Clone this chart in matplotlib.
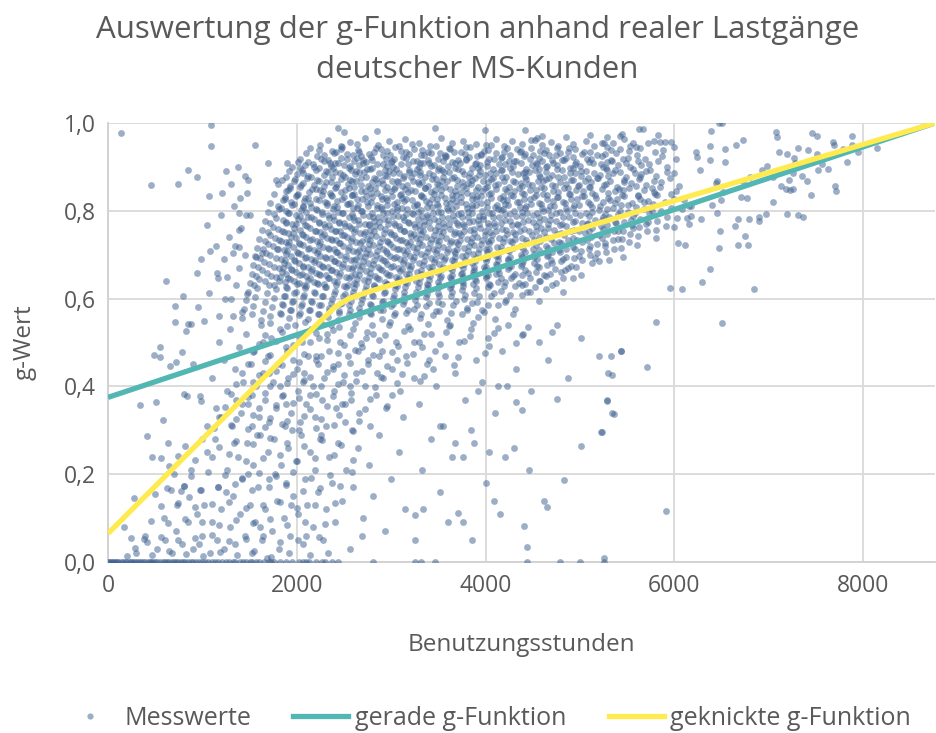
import numpy as np
import matplotlib
matplotlib.use("Agg")
import matplotlib.pyplot as plt
from matplotlib.lines import Line2D

plt.rcParams['font.family'] = ['Open Sans', 'DejaVu Sans']

# Messwerte (Benutzungsstunden, g-Wert), aus dem Bild abgeschätzt
punkte_null = [(0, 0), (30, 0), (60, 0), (90, 0), (140, 0), (180, 0), (230, 0), (260, 0), (310, 0), (350, 0),
               (390, 0), (420, 0), (460, 0), (500, 0), (550, 0), (580, 0), (620, 0), (650, 0), (700, 0), (740, 0),
               (790, 0), (850, 0), (900, 0), (960, 0), (1000, 0), (1060, 0), (1130, 0), (1210, 0), (1280, 0),
               (1350, 0), (1400, 0), (1460, 0), (1530, 0), (1570, 0), (1650, 0), (1700, 0), (1760, 0), (1880, 0),
               (2020, 0), (2070, 0), (2130, 0), (2200, 0), (2270, 0), (2300, 0), (2440, 0), (2810, 0), (3250, 0),
               (3320, 0), (3460, 0), (4440, 0), (4790, 0), (5000, 0), (5250, 0), (4440, .035), (5250, .009),
               (15, 0), (45, 0), (75, 0), (110, 0), (160, 0), (200, 0), (245, 0), (285, 0), (330, 0), (370, 0),
               (440, 0), (480, 0), (520, 0), (600, 0), (680, 0), (720, 0), (770, 0), (820, 0), (880, 0), (930, 0),
               (1030, 0), (1100, 0), (1170, 0), (1250, 0), (1320, 0), (1430, 0), (1500, 0), (1600, 0), (1730, 0),
               (1820, 0), (1950, 0), (2100, 0), (2370, 0)]

punkte_unten = [(200, .014), (290, .031), (410, .046), (390, .059), (240, .055), (170, .080), (500, .154), (270, .146),
                (470, .240), (410, .288), (650, .219), (670, .164), (770, .162), (860, .149), (810, .174), (970, .164),
                (520, .03), (600, .05), (680, .02), (720, .07), (780, .04), (850, .09), (900, .03), (940, .11),
                (1000, .06), (1020, .13), (1080, .02), (1100, .09), (1150, .05), (1170, .17), (1200, .12), (1230, .03),
                (1260, .21), (1290, .08), (1320, .15), (1350, .04), (1380, .24), (1400, .11), (1420, .19), (1450, .06),
                (1470, .27), (1500, .13), (1520, .02), (1540, .22), (1560, .09), (1590, .17), (1610, .29), (1630, .05),
                (1660, .12), (1690, .25), (1710, .19), (1740, .07), (1760, .28), (1790, .14), (1810, .03), (1830, .22),
                (1860, .10), (1880, .18), (1910, .26), (1930, .06), (1960, .15), (1990, .23), (2010, .11), (2040, .29),
                (2060, .04), (2090, .19), (2110, .13), (2140, .25), (2170, .08), (2190, .21), (2220, .16), (2250, .28),
                (2280, .05), (2310, .12), (2340, .24), (2370, .18), (2400, .09), (2440, .27), (2480, .14), (2520, .21),
                (2560, .03), (2600, .17), (2650, .26), (2700, .10), (2760, .22), (2810, .15), (2870, .29), (2930, .07),
                (3000, .19), (3080, .25), (3150, .12), (3250, .05), (3330, .21), (3420, .28), (3520, .16), (3640, .24),
                (3760, .09), (3880, .27), (4000, .18), (4150, .11), (4300, .26), (4460, .21), (4620, .14), (1050, .25),
                (880, .21), (730, .13), (590, .10), (1130, .28), (960, .04), (1250, .16), (1610, .08), (1770, .20),
                (1940, .13), (2330, .02), (2690, .06), (2100, .06), (1480, .20), (1330, .27), (1680, .01),
                (4830, .187), (4650, .125), (4410, .083), (3710, .112), (3860, .051), (3600, .091), (3340, .121),
                (3250, .106), (4090, .140), (5010, .264), (5220, .295), (4040, .25), (4200, .24), (3760, .24),
                (3670, .27), (5910, .117)]

punkte_unten2 = [(640, .272), (820, .265), (1000, .281), (1180, .262), (1360, .276), (1540, .268), (1720, .283),
                 (1900, .271), (2080, .264), (2270, .279), (2470, .266), (560, .236), (740, .242), (920, .233),
                 (1100, .239), (1280, .245), (1460, .231), (1640, .238), (1820, .244), (2000, .229), (2190, .237),
                 (2390, .243), (2600, .232), (700, .201), (880, .195), (1060, .204), (1240, .198), (1420, .192),
                 (1600, .202), (1780, .196), (1960, .205), (2150, .191), (2350, .199), (2580, .205), (620, .168),
                 (800, .174), (980, .165), (1160, .171), (1340, .177), (1520, .163), (1700, .170), (1880, .176),
                 (2060, .162), (2250, .169), (2460, .174), (560, .128), (740, .134), (920, .125), (1100, .131),
                 (1280, .137), (1460, .123), (1640, .130), (1820, .136), (2000, .122), (2190, .129), (2400, .135),
                 (460, .094), (640, .088), (820, .097), (1000, .091), (1180, .085), (1360, .095), (1540, .089),
                 (1720, .098), (1900, .084), (2090, .092), (2300, .087), (380, .052), (560, .058), (740, .049),
                 (920, .055), (1100, .061), (1280, .047), (1460, .053), (1640, .059), (1820, .045), (2010, .051),
                 (2230, .057), (300, .021), (470, .016), (650, .025), (830, .019), (1010, .013), (1190, .023),
                 (1370, .017), (1550, .026), (1730, .012), (1920, .020), (2140, .015)]

punkte_mitte = [(340, .358), (510, .365), (580, .323), (800, .382), (840, .377), (970, .379), (980, .367), (550, .489),
                (490, .472), (550, .466), (660, .447), (720, .456), (780, .478), (900, .450), (710, .546), (850, .542),
                (830, .526), (880, .542), (1020, .550), (1050, .31), (1100, .42), (1140, .35), (1180, .50), (1200, .33),
                (1230, .46), (1260, .39), (1290, .53), (1310, .31), (1340, .44), (1360, .37), (1390, .49), (1410, .34),
                (1430, .41), (1460, .52), (1480, .36), (1510, .45), (1530, .31), (1550, .48), (1570, .40), (1600, .33),
                (1620, .54), (1640, .43), (1660, .37), (1690, .47), (1710, .32), (1730, .51), (1750, .41), (1780, .35),
                (1800, .45), (1820, .53), (1850, .38), (1870, .31), (1890, .49), (1910, .42), (1940, .34), (1960, .46),
                (1980, .54), (2010, .39), (2030, .32), (2050, .50), (2080, .43), (2100, .36), (2120, .47), (2150, .53),
                (2170, .40), (2190, .33), (2220, .45), (2240, .51), (2270, .37), (2290, .42), (2310, .31), (2340, .48),
                (2360, .54), (2390, .39), (2410, .35), (2440, .45), (2460, .50), (2490, .41), (2510, .32), (2540, .47),
                (2570, .37), (2600, .53), (2630, .43), (2660, .34), (2690, .49), (2720, .40), (2750, .45), (2780, .31),
                (2810, .52), (2840, .38), (2870, .47), (2910, .42), (2940, .35), (2980, .54), (3010, .44), (3050, .50),
                (3090, .39), (3120, .33), (3160, .47), (3200, .53), (3240, .42), (3290, .36), (3330, .49), (3380, .45),
                (3420, .52), (3470, .40), (3520, .31), (3570, .47), (3620, .54), (3670, .43), (3720, .50), (3780, .37),
                (3840, .53), (3900, .46), (3960, .41), (4030, .51), (4100, .34), (4170, .48), (4240, .54), (4320, .44),
                (4400, .52), (4480, .39), (4570, .50), (4660, .46), (4760, .54), (4870, .42), (5010, .51), (5200, .47),
                (5300, .43), (5330, .47), (5340, .426), (5430, .48), (5710, .444), (5290, .367), (5360, .337),
                (5230, .296), (4760, .372), (5280, .369), (5340, .339), (4130, .40), (4230, .40), (4320, .365),
                (4390, .346), (3840, .30), (3550, .31), (3920, .39), (1520, .38), (1700, .43), (1880, .36), (2060, .41),
                (2200, .47), (2380, .44), (2560, .40), (2730, .51), (2900, .48), (1640, .50), (1820, .40), (2000, .44),
                (2140, .38), (2320, .52), (2480, .36), (2650, .48), (2850, .43), (3060, .46), (3240, .50), (3440, .44),
                (1580, .29), (1950, .30), (2260, .29), (2580, .30), (5800, .547), (5430, .48)]

punkte_mitte2 = [(1720, .545), (1900, .538), (2090, .547), (2270, .541), (2450, .536), (2620, .544), (2800, .539),
                 (2990, .546), (3180, .537), (3390, .543), (3610, .538), (3870, .545), (4130, .532), (4450, .536),
                 (1660, .518), (1840, .524), (2020, .515), (2200, .522), (2380, .528), (2560, .517), (2740, .523),
                 (2930, .516), (3130, .527), (3350, .519), (3580, .525), (3830, .514), (4090, .521), (4380, .517),
                 (4700, .523), (1600, .497), (1780, .503), (1960, .495), (2140, .501), (2320, .506), (2500, .494),
                 (2680, .499), (2870, .505), (3070, .493), (3290, .502), (3520, .497), (3770, .504), (4040, .491),
                 (4320, .498), (1540, .478), (1720, .472), (1900, .480), (2080, .474), (2260, .469), (2440, .477),
                 (2620, .483), (2810, .471), (3010, .479), (3230, .473), (3460, .481), (3710, .468), (3990, .476),
                 (1480, .452), (1660, .458), (1840, .449), (2020, .455), (2200, .461), (2380, .447), (2560, .454),
                 (2750, .459), (2950, .446), (3170, .453), (3400, .460), (3660, .448), (1420, .431), (1600, .425),
                 (1780, .434), (1960, .428), (2140, .422), (2320, .432), (2500, .426), (2690, .435), (2890, .421),
                 (3110, .429), (3350, .424), (1360, .405), (1540, .411), (1720, .402), (1900, .408), (2080, .414),
                 (2260, .400), (2440, .406), (2630, .412), (2830, .399), (3060, .407), (3300, .413), (1300, .382),
                 (1480, .376), (1660, .385), (1840, .379), (2020, .373), (2200, .383), (2380, .377), (2570, .386),
                 (2780, .372), (3010, .380), (1240, .354), (1420, .360), (1600, .351), (1780, .357), (1960, .363),
                 (2140, .349), (2320, .355), (2510, .361), (2720, .348), (2950, .356), (1180, .331), (1360, .325),
                 (1540, .334), (1720, .328), (1900, .322), (2080, .332), (2260, .326), (2450, .335), (2660, .321),
                 (1120, .305), (1300, .311), (1480, .302), (1660, .308), (1840, .314), (2020, .300), (2200, .306),
                 (2390, .312), (2600, .299)]

punkte_links = [(140, .977), (1090, .995), (1090, .948), (1560, .951), (460, .859), (740, .861), (850, .894),
                (940, .877), (1070, .834), (1050, .768), (1080, .708), (980, .690), (940, .658), (1150, .658),
                (1170, .646), (610, .639), (790, .607), (1070, .612), (710, .583), (950, .581), (1250, .89),
                (1300, .86), (1380, .90), (1200, .79), (1280, .74), (1230, .69), (1330, .81), (1360, .63), (1410, .76),
                (1450, .70), (1300, .60), (1420, .57), (1470, .84), (1180, .56), (1260, .65), (1390, .67), (1470, .61),
                (1500, .79), (1350, .72), (1450, .88), (1240, .60), (1140, .72), (1210, .84), (1320, .56), (1400, .83),
                (1480, .870), (1690, .908), (1780, .870), (1900, .908), (2030, .897), (1390, .794), (1460, .790),
                (1390, .756), (1390, .718), (1320, .703), (1565, .695), (1630, .703)]

punkte_rechts = [(6500, .544), (6840, .622), (5950, .624), (6080, .622), (6290, .638), (6380, .667), (6470, .716),
                 (6670, .723), (6780, .721), (6750, .742), (6480, .754), (6110, .723), (6040, .726), (8150, .942),
                 (7940, .935), (7830, .912), (7880, .971), (7880, .951), (7780, .941), (7700, .856), (7710, .846),
                 (7630, .895), (7680, .956), (7690, .950), (7560, .906), (7520, .893), (7510, .929), (7460, .977),
                 (7510, .971), (7410, .939), (7310, .942), (7270, .920), (7280, .908), (7250, .887), (7190, .929),
                 (7400, .867), (7450, .836), (7350, .879), (7210, .870), (7220, .847), (7180, .849), (7130, .856),
                 (7250, .849), (7040, .821), (7110, .935), (7090, .967), (7070, .979), (7310, .790), (7360, .785),
                 (7190, .793), (6970, .793), (6890, .777), (6890, .787), (6790, .781), (6670, .781), (6640, .766),
                 (6980, .902), (6930, .893), (7040, .878), (6730, .962), (6650, .951), (6530, .941), (6540, .911),
                 (6500, 1.0), (6470, .999), (6390, .982), (6380, .948), (6380, .916), (6230, .933), (6240, .923),
                 (6270, .892), (6450, .868), (6440, .863), (6510, .842), (6450, .796), (6490, .825), (6400, .813),
                 (6730, .868), (6700, .831), (6770, .829), (6800, .876), (6280, .781), (6180, .788), (6150, .811),
                 (6130, .783), (5620, .986), (5670, .986), (5440, .975), (5420, .970), (5830, .973), (5850, .957),
                 (5900, .957), (5960, .957), (5280, .967), (5530, .948), (5720, .954), (5560, .954), (6000, .945),
                 (2440, .988), (2500, .980), (2850, .982), (3460, .988), (3990, .983), (4420, .984), (4540, .965),
                 (4600, .970), (4480, .961), (5110, .973), (5250, .954)]

punkte_kern = [
    (2330, .962), (2560, .957), (2720, .965), (2980, .958), (3150, .963), (3290, .955), (3530, .966), (3760, .959),
    (3900, .953), (4110, .964), (4280, .958), (4520, .962), (4690, .956), (4850, .967), (5060, .960), (5230, .955),
    (5470, .963), (5780, .958),
    (2140, .943), (2370, .937), (2480, .946), (2650, .939), (2840, .944), (2950, .936), (3080, .948), (3240, .941),
    (3390, .935), (3470, .947), (3620, .940), (3790, .945), (3980, .937), (4060, .949), (4230, .942), (4370, .936),
    (4480, .944), (4640, .939), (4770, .947), (4950, .941), (5110, .935), (5290, .946), (5420, .940), (5640, .944),
    (5880, .938),
    (2030, .918), (2210, .924), (2330, .915), (2470, .921), (2590, .927), (2700, .916), (2790, .922), (2910, .928),
    (3030, .917), (3120, .923), (3270, .914), (3350, .926), (3490, .919), (3580, .925), (3710, .916), (3820, .922),
    (3950, .928), (4040, .917), (4170, .923), (4320, .914), (4410, .925), (4560, .920), (4670, .927), (4810, .916),
    (4920, .922), (5070, .918), (5180, .926), (5330, .915), (5510, .921), (5690, .917), (5870, .924), (6020, .919),
    (1950, .899), (2090, .905), (2230, .897), (2360, .903), (2440, .909), (2550, .898), (2660, .904), (2740, .896),
    (2850, .907), (2960, .901), (3050, .895), (3180, .906), (3290, .900), (3400, .908), (3510, .897), (3600, .903),
    (3730, .909), (3850, .898), (3940, .904), (4080, .896), (4200, .907), (4290, .901), (4430, .895), (4540, .906),
    (4640, .899), (4760, .905), (4890, .897), (5000, .903), (5140, .908), (5270, .898), (5400, .904), (5560, .896),
    (5730, .906), (5920, .900),
    (1880, .878), (2000, .884), (2150, .876), (2290, .882), (2400, .888), (2510, .877), (2620, .883), (2710, .889),
    (2820, .875), (2930, .881), (3020, .887), (3140, .879), (3240, .885), (3360, .876), (3440, .882), (3560, .888),
    (3660, .878), (3770, .884), (3890, .875), (3990, .881), (4110, .887), (4220, .877), (4340, .883), (4460, .889),
    (4580, .876), (4700, .882), (4830, .878), (4950, .886), (5080, .875), (5210, .881), (5350, .887), (5490, .877),
    (5650, .883), (5800, .879), (5990, .885),
    (1800, .862), (1930, .856), (2060, .864), (2180, .858), (2310, .866), (2420, .855), (2540, .861), (2630, .867),
    (2750, .857), (2860, .863), (2950, .854), (3070, .865), (3170, .859), (3280, .866), (3390, .856), (3480, .862),
    (3590, .868), (3700, .857), (3810, .863), (3920, .855), (4030, .866), (4130, .860), (4250, .854), (4370, .864),
    (4490, .858), (4610, .867), (4730, .856), (4850, .862), (4980, .857), (5120, .865), (5250, .859), (5390, .855),
    (5540, .863), (5700, .858), (5860, .866), (6050, .857),
    (1760, .838), (1880, .844), (2000, .836), (2130, .842), (2250, .848), (2360, .837), (2470, .843), (2580, .835),
    (2680, .846), (2790, .840), (2890, .834), (3000, .845), (3100, .839), (3210, .847), (3320, .836), (3420, .842),
    (3530, .848), (3640, .837), (3740, .843), (3850, .835), (3960, .846), (4060, .840), (4180, .834), (4300, .845),
    (4410, .839), (4530, .847), (4650, .836), (4770, .842), (4890, .838), (5030, .846), (5160, .835), (5300, .841),
    (5450, .847), (5610, .837), (5780, .843), (5960, .839),
    (1720, .818), (1850, .824), (1970, .816), (2080, .822), (2200, .828), (2320, .817), (2430, .823), (2530, .815),
    (2640, .826), (2740, .820), (2850, .814), (2950, .825), (3060, .819), (3160, .827), (3270, .816), (3370, .822),
    (3480, .828), (3580, .817), (3690, .823), (3790, .815), (3900, .826), (4010, .820), (4120, .814), (4230, .825),
    (4350, .819), (4470, .827), (4590, .816), (4710, .822), (4840, .818), (4970, .826), (5100, .815), (5240, .821),
    (5390, .827), (5550, .817), (5720, .823), (5900, .819), (6100, .825),
    (1690, .798), (1810, .804), (1920, .796), (2040, .802), (2150, .808), (2270, .797), (2380, .803), (2480, .795),
    (2590, .806), (2690, .800), (2800, .794), (2900, .805), (3010, .799), (3110, .807), (3220, .796), (3320, .802),
    (3430, .808), (3530, .797), (3640, .803), (3740, .795), (3850, .806), (3960, .800), (4070, .794), (4180, .805),
    (4300, .799), (4420, .807), (4540, .796), (4660, .802), (4790, .798), (4920, .806), (5060, .795), (5200, .801),
    (5350, .807), (5510, .797), (5680, .803), (5860, .799), (6080, .805),
    (1660, .776), (1780, .784), (1890, .772), (2010, .781), (2120, .787), (2230, .775), (2340, .783), (2450, .773),
    (2550, .786), (2650, .778), (2760, .771), (2860, .785), (2970, .779), (3070, .788), (3180, .774), (3280, .782),
    (3390, .787), (3490, .776), (3600, .783), (3700, .772), (3810, .785), (3920, .779), (4030, .773), (4140, .786),
    (4260, .777), (4380, .788), (4500, .774), (4620, .781), (4750, .776), (4880, .786), (5020, .773), (5160, .780),
    (5310, .787), (5470, .775), (5640, .782), (5820, .777), (6030, .784), (6150, .771),
    (1630, .756), (1750, .764), (1860, .752), (1970, .761), (2090, .767), (2200, .755), (2300, .763), (2410, .753),
    (2510, .766), (2620, .758), (2720, .751), (2830, .765), (2930, .759), (3040, .768), (3140, .754), (3250, .762),
    (3350, .767), (3460, .756), (3560, .763), (3670, .752), (3770, .765), (3880, .759), (3990, .753), (4100, .766),
    (4220, .757), (4340, .768), (4460, .754), (4590, .761), (4720, .756), (4850, .766), (4990, .753), (5130, .760),
    (5290, .767), (5450, .755), (5620, .762), (5800, .757), (6000, .764),
    (1600, .736), (1720, .744), (1830, .732), (1940, .741), (2050, .747), (2160, .735), (2270, .743), (2370, .733),
    (2480, .746), (2580, .738), (2690, .731), (2790, .745), (2900, .739), (3000, .748), (3110, .734), (3210, .742),
    (3320, .747), (3420, .736), (3530, .743), (3630, .732), (3740, .745), (3850, .739), (3960, .733), (4070, .746),
    (4190, .737), (4310, .748), (4430, .734), (4560, .741), (4690, .736), (4830, .746), (4970, .733), (5120, .740),
    (5280, .747), (5440, .735), (5610, .742), (5800, .737),
    (1580, .716), (1690, .724), (1800, .712), (1910, .721), (2020, .727), (2130, .715), (2240, .723), (2340, .713),
    (2450, .726), (2550, .718), (2660, .711), (2760, .725), (2870, .719), (2970, .728), (3080, .714), (3180, .722),
    (3290, .727), (3390, .716), (3500, .723), (3600, .712), (3710, .725), (3820, .719), (3930, .713), (4040, .726),
    (4160, .717), (4280, .728), (4400, .714), (4530, .721), (4660, .716), (4800, .726), (4950, .713), (5100, .720),
    (5260, .727), (5430, .715), (5600, .722),
    (1560, .696), (1670, .704), (1780, .692), (1890, .701), (2000, .707), (2100, .695), (2210, .703), (2310, .693),
    (2420, .706), (2520, .698), (2630, .691), (2730, .705), (2840, .699), (2940, .708), (3050, .694), (3150, .702),
    (3260, .707), (3360, .696), (3470, .703), (3570, .692), (3680, .705), (3790, .699), (3900, .693), (4010, .706),
    (4130, .697), (4250, .708), (4380, .694), (4510, .701), (4650, .696), (4790, .706), (4940, .693), (5100, .700),
    (5270, .707), (5450, .695),
    (1540, .676), (1650, .684), (1760, .672), (1860, .681), (1970, .687), (2070, .675), (2180, .683), (2280, .673),
    (2390, .686), (2490, .678), (2600, .671), (2700, .685), (2810, .679), (2910, .688), (3020, .674), (3120, .682),
    (3230, .687), (3340, .676), (3450, .683), (3550, .672), (3660, .685), (3770, .679), (3880, .673), (4000, .686),
    (4120, .677), (4240, .688), (4370, .674), (4510, .681), (4650, .676), (4800, .686), (4960, .673), (5130, .680),
    (5310, .687),
    (1520, .656), (1630, .664), (1730, .652), (1840, .661), (1940, .667), (2050, .655), (2150, .663), (2250, .653),
    (2360, .666), (2460, .658), (2570, .651), (2670, .665), (2780, .659), (2880, .668), (2990, .654), (3090, .662),
    (3200, .667), (3310, .656), (3420, .663), (3530, .652), (3640, .665), (3750, .659), (3870, .653), (3990, .666),
    (4110, .657), (4240, .668), (4380, .654), (4530, .661), (4680, .656), (4840, .666), (5010, .653),
    (1500, .636), (1600, .644), (1710, .632), (1810, .641), (1910, .647), (2020, .635), (2120, .643), (2220, .633),
    (2330, .646), (2430, .638), (2540, .631), (2640, .645), (2750, .639), (2850, .648), (2960, .634), (3070, .642),
    (3180, .647), (3290, .636), (3400, .643), (3510, .632), (3630, .645), (3750, .639), (3870, .633), (4000, .646),
    (4130, .637), (4270, .648), (4420, .634), (4580, .641), (4750, .636), (4930, .646),
    (1480, .616), (1580, .624), (1680, .612), (1780, .621), (1880, .627), (1990, .615), (2090, .623), (2190, .613),
    (2300, .626), (2400, .618), (2510, .611), (2610, .625), (2720, .619), (2820, .628), (2930, .614), (3040, .622),
    (3150, .627), (3260, .616), (3380, .623), (3500, .612), (3620, .625), (3750, .619), (3880, .613), (4020, .626),
    (4160, .617), (4310, .628), (4470, .614), (4640, .621), (4820, .616),
    (1460, .596), (1560, .604), (1660, .592), (1760, .601), (1860, .607), (1960, .595), (2060, .603), (2160, .593),
    (2270, .606), (2370, .598), (2480, .591), (2580, .605), (2690, .599), (2800, .608), (2910, .594), (3020, .602),
    (3130, .607), (3250, .596), (3370, .603), (3500, .592), (3630, .605), (3770, .599), (3910, .593), (4060, .606),
    (4220, .597), (4390, .608), (4570, .594),
    (1440, .576), (1540, .584), (1640, .572), (1740, .581), (1840, .587), (1940, .575), (2040, .583), (2140, .573),
    (2240, .586), (2340, .578), (2450, .571), (2550, .585), (2660, .579), (2770, .588), (2880, .574), (3000, .582),
    (3120, .587), (3240, .576), (3370, .583), (3510, .572), (3650, .585), (3800, .579), (3960, .573), (4130, .586),
    (4310, .577),
    (1420, .556), (1520, .564), (1620, .552), (1720, .561), (1820, .567), (1920, .555), (2020, .563), (2120, .553),
    (2220, .566), (2330, .558), (2440, .551), (2550, .565), (2660, .559), (2780, .568), (2900, .554), (3030, .562),
    (3160, .567), (3300, .556), (3440, .563), (3590, .552), (3750, .565), (3920, .559), (4100, .553), (4290, .566),
]

punkte_kern2 = [
    (2250, .951), (2470, .947), (2640, .953), (2860, .949), (3040, .945), (3220, .952), (3410, .948), (3640, .954),
    (3830, .946), (4000, .951), (4190, .947), (4390, .953), (4600, .949), (4760, .944), (4930, .952), (5150, .948),
    (5350, .954), (5590, .946),
    (2100, .931), (2290, .927), (2420, .934), (2530, .929), (2680, .925), (2820, .933), (2990, .928), (3160, .935),
    (3310, .926), (3420, .931), (3570, .927), (3660, .934), (3780, .929), (3910, .925), (4110, .932), (4260, .928),
    (4360, .934), (4500, .926), (4620, .931), (4740, .927), (4870, .933), (5020, .929), (5230, .925), (5380, .932),
    (5600, .928), (5790, .934),
    (2010, .911), (2170, .907), (2290, .914), (2400, .909), (2500, .905), (2610, .913), (2700, .908), (2800, .915),
    (2910, .906), (3000, .911), (3100, .907), (3230, .914), (3340, .909), (3450, .905), (3550, .913), (3680, .908),
    (3790, .915), (3890, .906), (4010, .911), (4140, .907), (4250, .914), (4370, .909), (4490, .905), (4600, .913),
    (4710, .908), (4830, .915), (4950, .906), (5090, .911), (5220, .907), (5340, .914), (5490, .909), (5650, .905),
    (5830, .913),
    (1920, .891), (2070, .887), (2200, .894), (2330, .889), (2460, .885), (2570, .893), (2660, .888), (2770, .895),
    (2870, .886), (2980, .891), (3080, .887), (3190, .894), (3300, .889), (3400, .885), (3500, .893), (3610, .888),
    (3710, .895), (3830, .886), (3940, .891), (4050, .887), (4160, .894), (4280, .889), (4400, .885), (4520, .893),
    (4640, .888), (4760, .895), (4890, .886), (5010, .891), (5150, .887), (5290, .894), (5420, .889), (5580, .885),
    (5740, .893), (5920, .888),
    (1840, .871), (1970, .867), (2110, .874), (2240, .869), (2360, .865), (2470, .873), (2580, .868), (2680, .875),
    (2800, .866), (2900, .871), (3010, .867), (3120, .874), (3230, .869), (3330, .865), (3430, .873), (3540, .868),
    (3640, .875), (3750, .866), (3860, .871), (3970, .867), (4080, .874), (4190, .869), (4310, .865), (4430, .873),
    (4550, .868), (4670, .875), (4790, .866), (4920, .871), (5050, .867), (5180, .874), (5320, .869), (5460, .865),
    (5620, .873), (5780, .868), (5950, .875),
    (1910, .847), (2030, .854), (2160, .849), (2280, .845), (2400, .853), (2510, .848), (2610, .855),
    (2720, .846), (2830, .851), (2930, .847), (3040, .854), (3150, .849), (3250, .845), (3360, .853), (3460, .848),
    (3570, .855), (3680, .846), (3790, .851), (3900, .847), (4010, .854), (4110, .849), (4230, .845), (4350, .853),
    (4470, .848), (4590, .855), (4710, .846), (4830, .851), (4960, .847), (5090, .854), (5230, .849), (5370, .845),
    (5520, .853), (5680, .848), (5850, .855), (6020, .846),
    (1870, .827), (1990, .834), (2120, .829), (2240, .825), (2370, .833), (2480, .828), (2580, .835),
    (2690, .826), (2800, .831), (2900, .827), (3010, .834), (3110, .829), (3220, .825), (3320, .833), (3430, .828),
    (3530, .835), (3640, .826), (3740, .831), (3850, .827), (3950, .834), (4060, .829), (4180, .825), (4290, .833),
    (4410, .828), (4530, .835), (4650, .826), (4770, .831), (4900, .827), (5040, .834), (5170, .829), (5320, .825),
    (5470, .833), (5630, .828), (5810, .835), (6000, .826),
    (1830, .807), (1950, .814), (2070, .809), (2200, .805), (2320, .813), (2430, .808), (2540, .815),
    (2640, .806), (2750, .811), (2850, .807), (2960, .814), (3060, .809), (3170, .805), (3270, .813), (3380, .808),
    (3480, .815), (3590, .806), (3690, .811), (3800, .807), (3900, .814), (4010, .809), (4130, .805), (4240, .813),
    (4360, .808), (4480, .815), (4600, .806), (4720, .811), (4850, .807), (4990, .814), (5130, .809), (5280, .805),
    (5430, .813), (5590, .808), (5770, .815), (5960, .806), (6180, .811),
    (1910, .794), (2030, .789), (2150, .785), (2270, .793), (2380, .788), (2490, .795),
    (2600, .786), (2700, .791), (2810, .787), (2910, .794), (3020, .789), (3120, .785), (3230, .793), (3330, .788),
    (3440, .795), (3540, .786), (3650, .791), (3750, .787), (3860, .794), (3970, .789), (4080, .785), (4200, .793),
    (4320, .788), (4440, .795), (4560, .786), (4690, .791), (4820, .787), (4950, .794), (5090, .789), (5240, .785),
    (5400, .793), (5560, .788), (5730, .795), (5920, .786),
    (1880, .774), (1990, .769), (2110, .765), (2230, .773), (2340, .768), (2450, .775),
    (2550, .766), (2660, .771), (2760, .767), (2870, .774), (2970, .769), (3080, .765), (3190, .773), (3290, .768),
    (3400, .775), (3500, .766), (3610, .771), (3710, .767), (3820, .774), (3930, .769), (4040, .765), (4160, .773),
    (4280, .768), (4400, .775), (4530, .766), (4660, .771), (4790, .767), (4930, .774), (5070, .769), (5220, .765),
    (5380, .773), (5550, .768), (5720, .775), (5910, .766),
    (1840, .754), (1960, .749), (2070, .745), (2190, .753), (2290, .748), (2400, .755),
    (2500, .746), (2610, .751), (2710, .747), (2820, .754), (2920, .749), (3030, .745), (3130, .753), (3240, .748),
    (3340, .755), (3450, .746), (3550, .751), (3660, .747), (3770, .754), (3880, .749), (3990, .745), (4110, .753),
    (4230, .748), (4360, .755), (4490, .746), (4620, .751), (4760, .747), (4900, .754), (5050, .749), (5200, .745),
    (5360, .753), (5530, .748), (5710, .755),
    (1810, .734), (1920, .729), (2030, .725), (2140, .733), (2250, .728), (2360, .735),
    (2460, .726), (2570, .731), (2670, .727), (2780, .734), (2880, .729), (2990, .725), (3090, .733), (3200, .728),
    (3300, .735), (3410, .726), (3510, .731), (3620, .727), (3730, .734), (3840, .729), (3950, .725), (4060, .733),
    (4180, .728), (4310, .735), (4440, .726), (4580, .731), (4720, .727), (4870, .734), (5020, .729), (5180, .725),
    (5350, .733), (5520, .728),
    (1790, .714), (1900, .709), (2010, .705), (2120, .713), (2220, .708), (2330, .715),
    (2430, .706), (2540, .711), (2640, .707), (2750, .714), (2850, .709), (2960, .705), (3060, .713), (3170, .708),
    (3270, .715), (3380, .706), (3480, .711), (3590, .707), (3700, .714), (3810, .709), (3920, .705), (4040, .713),
    (4160, .708), (4290, .715), (4420, .706), (4560, .711), (4700, .707), (4850, .714), (5010, .709), (5180, .705),
    (5360, .713),
    (1870, .689), (1980, .685), (2090, .693), (2190, .688), (2300, .695),
    (2400, .686), (2510, .691), (2610, .687), (2720, .694), (2820, .689), (2930, .685), (3030, .693), (3140, .688),
    (3240, .695), (3350, .686), (3460, .691), (3560, .687), (3670, .694), (3780, .689), (3890, .685), (4010, .693),
    (4130, .688), (4260, .695), (4400, .686), (4540, .691), (4690, .687), (4850, .694), (5020, .689), (5200, .685),
    (1850, .669), (1950, .665), (2060, .673), (2160, .668), (2270, .675),
    (2370, .666), (2480, .671), (2580, .667), (2690, .674), (2790, .669), (2900, .665), (3000, .673), (3110, .668),
    (3210, .675), (3320, .666), (3430, .671), (3540, .667), (3650, .674), (3760, .669), (3880, .665), (4000, .673),
    (4130, .668), (4270, .675), (4420, .666), (4570, .671), (4730, .667), (4900, .674),
    (1820, .649), (1930, .645), (2030, .653), (2140, .648), (2240, .655),
    (2340, .646), (2450, .651), (2550, .647), (2660, .654), (2760, .649), (2870, .645), (2970, .653), (3080, .648),
    (3190, .655), (3300, .646), (3410, .651), (3520, .647), (3640, .654), (3760, .649), (3890, .645), (4020, .653),
    (4160, .648), (4310, .655), (4470, .646), (4640, .651), (4820, .647),
    (1900, .625), (2000, .633), (2100, .628), (2210, .635),
    (2310, .626), (2420, .631), (2520, .627), (2630, .634), (2730, .629), (2840, .625), (2950, .633), (3060, .628),
    (3170, .635), (3280, .626), (3390, .631), (3510, .627), (3630, .634), (3760, .629), (3900, .625), (4040, .633),
    (4190, .628), (4350, .635), (4520, .626), (4700, .631),
    (1870, .605), (1970, .613), (2080, .608), (2180, .615),
    (2280, .606), (2390, .611), (2490, .607), (2600, .614), (2700, .609), (2810, .605), (2920, .613), (3030, .608),
    (3140, .615), (3260, .606), (3380, .611), (3510, .607), (3640, .614), (3780, .609), (3930, .605), (4090, .613),
    (4260, .608), (4440, .615),
    (1850, .585), (1950, .593), (2050, .588), (2150, .595),
    (2260, .586), (2360, .591), (2460, .587), (2570, .594), (2680, .589), (2790, .585), (2900, .593), (3020, .588),
    (3140, .595), (3270, .586), (3400, .591), (3540, .587), (3690, .594), (3850, .589), (4020, .585), (4200, .593),
    (1830, .565), (1930, .573), (2030, .568), (2130, .575),
    (2240, .566), (2340, .571), (2450, .567), (2560, .574), (2670, .569), (2790, .565), (2910, .573), (3040, .568),
    (3180, .575), (3320, .566), (3470, .571), (3630, .567), (3800, .574), (3980, .569),
]

punkte_kern3 = [
    (2230, .938), (2390, .931), (2470, .940), (2660, .933), (2760, .929), (2890, .941), (3100, .936), (3190, .930),
    (3330, .939), (3520, .932), (3610, .942), (3740, .935), (3950, .929), (4030, .938), (4190, .933), (4330, .941),
    (4420, .930), (4580, .937), (4790, .932), (4880, .943), (5040, .934), (5260, .929), (5330, .939), (5520, .936),
    (2120, .912), (2260, .919), (2350, .910), (2530, .917), (2640, .921), (2730, .911), (2940, .918), (3010, .913),
    (3160, .920), (3300, .909), (3390, .916), (3570, .922), (3640, .912), (3790, .918), (3900, .910), (4090, .917),
    (4160, .921), (4300, .913), (4470, .918), (4530, .909), (4700, .916), (4850, .921), (4960, .912), (5120, .918),
    (5280, .911), (5450, .919), (5610, .914),
    (2050, .892), (2180, .899), (2310, .890), (2380, .897), (2560, .901), (2630, .891), (2800, .898), (2930, .893),
    (3020, .900), (3190, .889), (3270, .896), (3420, .902), (3540, .892), (3670, .898), (3750, .890), (3920, .897),
    (4010, .901), (4170, .893), (4260, .898), (4420, .889), (4560, .896), (4650, .901), (4810, .892), (4930, .898),
    (5060, .891), (5240, .899), (5370, .894), (5530, .900), (5700, .890),
    (1980, .872), (2120, .879), (2210, .870), (2370, .877), (2490, .881), (2560, .871), (2730, .878), (2840, .873),
    (2960, .880), (3060, .869), (3210, .876), (3300, .882), (3470, .872), (3550, .878), (3700, .870), (3820, .877),
    (3930, .881), (4060, .873), (4170, .878), (4290, .869), (4420, .876), (4560, .881), (4640, .872), (4770, .878),
    (4900, .871), (5010, .879), (5190, .874), (5300, .880), (5470, .870), (5630, .877),
    (1930, .852), (2040, .859), (2200, .850), (2290, .857), (2430, .861), (2550, .851), (2680, .858), (2770, .853),
    (2910, .860), (3030, .849), (3110, .856), (3290, .862), (3360, .852), (3510, .858), (3620, .850), (3760, .857),
    (3840, .861), (3990, .853), (4100, .858), (4200, .849), (4380, .856), (4450, .861), (4620, .852), (4700, .858),
    (4870, .851), (4990, .859), (5100, .854), (5270, .860), (5410, .850), (5590, .857), (5760, .853),
    (1870, .832), (2010, .839), (2090, .830), (2270, .837), (2350, .841), (2500, .831), (2610, .838), (2730, .833),
    (2850, .840), (2940, .829), (3090, .836), (3180, .842), (3340, .832), (3450, .838), (3570, .830), (3690, .837),
    (3800, .841), (3910, .833), (4040, .838), (4150, .829), (4270, .836), (4390, .841), (4510, .832), (4610, .838),
    (4760, .831), (4880, .839), (5020, .834), (5130, .840), (5300, .830), (5440, .837), (5610, .833), (5790, .839),
    (1800, .812), (1940, .819), (2060, .810), (2140, .817), (2300, .821), (2390, .811), (2560, .818), (2650, .813),
    (2790, .820), (2890, .809), (3030, .816), (3130, .822), (3240, .812), (3400, .818), (3500, .810), (3620, .817),
    (3740, .821), (3860, .813), (3950, .818), (4100, .809), (4200, .816), (4330, .821), (4430, .812), (4570, .818),
    (4680, .811), (4820, .819), (4940, .814), (5080, .820), (5210, .810), (5370, .817), (5510, .813), (5680, .819),
    (1760, .792), (1880, .799), (1990, .790), (2100, .797), (2210, .801), (2330, .791), (2440, .798), (2580, .793),
    (2680, .800), (2760, .789), (2950, .796), (3060, .802), (3160, .792), (3280, .798), (3380, .790), (3500, .797),
    (3600, .801), (3710, .793), (3810, .798), (3930, .789), (4040, .796), (4160, .801), (4260, .792), (4380, .798),
    (4500, .791), (4610, .799), (4740, .794), (4860, .800), (5000, .790), (5130, .797), (5260, .793), (5420, .799),
    (5580, .795), (5760, .800),
    (1720, .772), (1850, .779), (1950, .770), (2070, .777), (2180, .781), (2290, .771), (2390, .778), (2500, .773),
    (2610, .780), (2720, .769), (2820, .776), (2920, .782), (3030, .772), (3130, .778), (3240, .770), (3350, .777),
    (3450, .781), (3550, .773), (3660, .778), (3760, .769), (3870, .776), (3970, .781), (4090, .772), (4210, .778),
    (4330, .771), (4450, .779), (4560, .774), (4680, .780), (4810, .770), (4950, .777), (5080, .773), (5230, .779),
    (5370, .775), (5540, .780), (5700, .771),
    (1690, .752), (1800, .759), (1910, .750), (2030, .757), (2140, .761), (2250, .751), (2360, .758), (2460, .753),
    (2570, .760), (2670, .749), (2780, .756), (2880, .762), (2990, .752), (3090, .758), (3200, .750), (3300, .757),
    (3410, .761), (3510, .753), (3620, .758), (3720, .749), (3830, .756), (3940, .761), (4050, .752), (4170, .758),
    (4290, .751), (4410, .759), (4530, .754), (4660, .760), (4800, .750), (4940, .757), (5090, .753), (5240, .759),
    (5400, .755), (5560, .760),
    (1660, .732), (1770, .739), (1880, .730), (1990, .737), (2100, .741), (2210, .731), (2320, .738), (2420, .733),
    (2530, .740), (2630, .729), (2740, .736), (2840, .742), (2950, .732), (3050, .738), (3160, .730), (3260, .737),
    (3370, .741), (3470, .733), (3580, .738), (3690, .729), (3800, .736), (3910, .741), (4020, .732), (4140, .738),
    (4260, .731), (4380, .739), (4510, .734), (4640, .740), (4780, .730), (4920, .737), (5070, .733), (5230, .739),
    (5400, .735),
    (1640, .712), (1750, .719), (1860, .710), (1960, .717), (2070, .721), (2180, .711), (2280, .718), (2390, .713),
    (2490, .720), (2600, .709), (2700, .716), (2810, .722), (2910, .712), (3020, .718), (3120, .710), (3230, .717),
    (3330, .721), (3440, .713), (3550, .718), (3660, .709), (3770, .716), (3880, .721), (4000, .712), (4120, .718),
    (4240, .711), (4370, .719), (4500, .714), (4640, .720), (4780, .710), (4930, .717), (5090, .713), (5260, .719),
    (1610, .692), (1720, .699), (1830, .690), (1940, .697), (2040, .701), (2150, .691), (2250, .698), (2360, .693),
    (2460, .700), (2570, .689), (2670, .696), (2780, .702), (2880, .692), (2990, .698), (3090, .690), (3200, .697),
    (3310, .701), (3420, .693), (3530, .698), (3640, .689), (3750, .696), (3870, .701), (3990, .692), (4110, .698),
    (4240, .691), (4370, .699), (4510, .694), (4660, .700), (4820, .690), (4990, .697), (5160, .693),
    (1590, .672), (1700, .679), (1810, .670), (1910, .677), (2020, .681), (2120, .671), (2230, .678), (2330, .673),
    (2440, .680), (2540, .669), (2650, .676), (2750, .682), (2860, .672), (2960, .678), (3070, .670), (3180, .677),
    (3290, .681), (3400, .673), (3510, .678), (3620, .669), (3740, .676), (3860, .681), (3980, .672), (4110, .678),
    (4250, .671), (4390, .679), (4540, .674), (4700, .680), (4870, .670),
    (1570, .652), (1680, .659), (1780, .650), (1890, .657), (1990, .661), (2100, .651), (2200, .658), (2310, .653),
    (2410, .660), (2520, .649), (2620, .656), (2730, .662), (2830, .652), (2940, .658), (3050, .650), (3160, .657),
    (3270, .661), (3380, .653), (3500, .658), (3620, .649), (3740, .656), (3870, .661), (4000, .652), (4140, .658),
    (4290, .651), (4450, .659), (4620, .654), (4800, .660),
    (1550, .632), (1660, .639), (1760, .630), (1870, .637), (1970, .641), (2080, .631), (2180, .638), (2290, .633),
    (2390, .640), (2500, .629), (2610, .636), (2710, .642), (2820, .632), (2930, .638), (3040, .630), (3150, .637),
    (3260, .641), (3380, .633), (3500, .638), (3630, .629), (3760, .636), (3900, .641), (4050, .632), (4210, .638),
    (4380, .631), (4560, .639),
]

# g-Funktionen
gerade_x = [0, 8760]
gerade_y = [0.375, 1.0]
geknickt_x = [0, 2250, 2400, 2550, 2750, 8760]
geknickt_y = [0.065, 0.549, 0.580, 0.600, 0.615, 1.0]

alle = (punkte_null + punkte_unten + punkte_unten2 + punkte_mitte + punkte_mitte2 + punkte_links
        + punkte_rechts + punkte_kern + punkte_kern2 + punkte_kern3)
mx = np.array([p[0] for p in alle])
my = np.array([p[1] for p in alle])

fig = plt.figure(figsize=(9.36, 7.33), dpi=100)
ax = fig.add_axes([0.1154, 0.2333, 0.8836, 0.5989])

ax.scatter(mx, my, s=24, color='#3b5f8f', alpha=0.5, linewidths=0, zorder=3)
ax.plot(gerade_x, gerade_y, color='#52b7b2', lw=3.8, solid_capstyle='butt', zorder=4)
ax.plot(geknickt_x, geknickt_y, color='#ffeb50', lw=3.8, solid_capstyle='butt', zorder=4)

ax.set_xlim(0, 8760)
ax.set_ylim(0, 1.0)
ax.set_xticks([0, 2000, 4000, 6000, 8000])
ax.set_yticks([0, 0.2, 0.4, 0.6, 0.8, 1.0])
ax.set_yticklabels(['0,0', '0,2', '0,4', '0,6', '0,8', '1,0'])
ax.tick_params(length=0, labelsize=16.5, colors='#595959', pad=9)
ax.grid(True, color='#d9d9d9', lw=1.3)
ax.set_axisbelow(True)
for s in ['top', 'right']:
    ax.spines[s].set_visible(False)
for s in ['left', 'bottom']:
    ax.spines[s].set_color('#d0d0d0')
    ax.spines[s].set_linewidth(1.3)

ax.set_xlabel('Benutzungsstunden', fontsize=17.5, color='#595959', labelpad=25)
ax.set_ylabel('g-Wert', fontsize=17.5, color='#595959', labelpad=19)

fig.text(0.51, 0.959, 'Auswertung der g-Funktion anhand realer Lastgänge', ha='center', va='center',
         fontsize=22.5, color='#595959')
fig.text(0.51, 0.904, 'deutscher MS-Kunden', ha='center', va='center', fontsize=22.5, color='#595959')

handles = [Line2D([], [], marker='o', ls='none', markersize=4.5, color='#3b5f8f', alpha=0.5, markeredgewidth=0),
           Line2D([], [], color='#52b7b2', lw=3.8),
           Line2D([], [], color='#ffeb50', lw=3.8)]
fig.legend(handles, ['Messwerte', 'gerade g-Funktion', 'geknickte g-Funktion'],
           loc='lower center', bbox_to_anchor=(0.52, -0.028), ncol=3, frameon=False,
           fontsize=18, labelcolor='#595959', handlelength=2.2, handletextpad=0.25, columnspacing=1.7)

fig.savefig('out.png', dpi=100)
